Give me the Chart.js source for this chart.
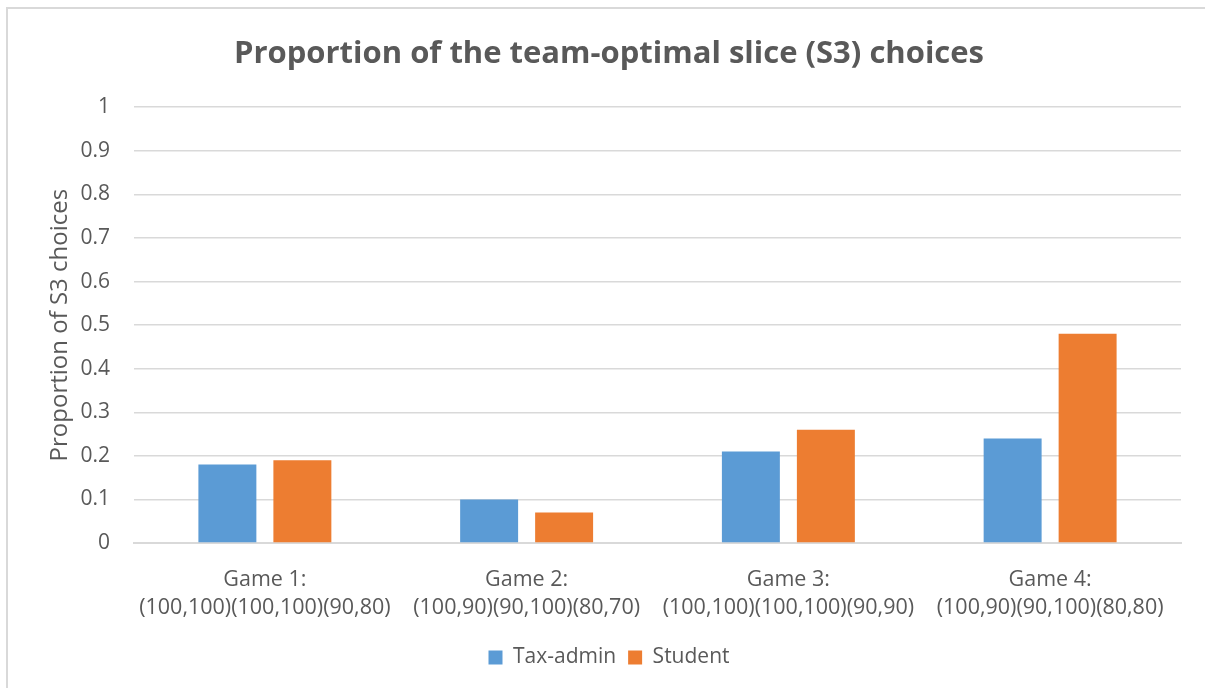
<!DOCTYPE html>
<html>
<head>
<meta charset="utf-8">
<script src="https://cdn.jsdelivr.net/npm/chart.js@4.4.1/dist/chart.umd.min.js"></script>
<style>
  html, body { margin: 0; padding: 0; background: #fff; overflow: hidden; }
  #frame { position: absolute; left: 6px; top: 7px; width: 1220px; height: 700px; border: 2px solid #d9d9d9; }
  #wrap { position: absolute; left: 37px; top: 0; width: 1168px; height: 688px; }
</style>
</head>
<body>
<div id="frame"></div>
<div id="wrap"><canvas id="chart" width="1168" height="688"></canvas></div>
<script>
const categories = [
  ["Game 1:", "(100,100)(100,100)(90,80)"],
  ["Game 2:", "(100,90)(90,100)(80,70)"],
  ["Game 3:", "(100,100)(100,100)(90,90)"],
  ["Game 4:", "(100,90)(90,100)(80,80)"]
];
const taxAdmin = [0.18, 0.10, 0.21, 0.24];
const student = [0.19, 0.07, 0.26, 0.48];
const yTicks = [0, 0.1, 0.2, 0.3, 0.4, 0.5, 0.6, 0.7, 0.8, 0.9, 1];

const textColor = "#595959";
const gridColor = "#d9d9d9";
const fontFamily = "'Open Sans', 'Noto Sans', sans-serif";

Chart.defaults.font.family = fontFamily;
Chart.defaults.color = textColor;

const ctx = document.getElementById("chart");

new Chart(ctx, {
  type: "bar",
  data: {
    labels: categories,
    datasets: [
      {
        label: "Tax-admin",
        data: taxAdmin,
        backgroundColor: "#5b9bd5",
        categoryPercentage: 0.573,
        barPercentage: 0.773
      },
      {
        label: "Student",
        data: student,
        backgroundColor: "#ed7d31",
        categoryPercentage: 0.573,
        barPercentage: 0.773
      }
    ]
  },
  options: {
    responsive: false,
    animation: false,
    layout: {
      padding: { left: 0, right: 24, top: 0, bottom: 10 }
    },
    plugins: {
      title: {
        display: true,
        text: "Proportion of the team-optimal slice (S3) choices",
        color: textColor,
        font: { size: 31, weight: "bold" },
        padding: { top: 36, bottom: 34 }
      },
      legend: {
        position: "bottom",
        labels: {
          boxWidth: 14,
          boxHeight: 14,
          padding: 12,
          font: { size: 21 },
          color: textColor
        }
      },
      tooltip: { enabled: false }
    },
    scales: {
      x: {
        grid: { display: false, drawTicks: false },
        border: { color: gridColor, width: 2 },
        ticks: {
          font: { size: 21.5, lineHeight: 1.3 },
          color: textColor,
          padding: 23,
          maxRotation: 0,
          autoSkip: false
        },
        afterFit: (s) => { s.height = 92; }
      },
      y: {
        min: 0,
        max: 1,
        afterBuildTicks: (s) => { s.ticks = yTicks.map(v => ({ value: v })); },
        grid: { color: gridColor, lineWidth: 1.5, drawTicks: false },
        border: { display: false },
        ticks: {
          font: { size: 21 },
          color: textColor,
          padding: 24,
          callback: (v) => String(Math.round(v * 10) / 10)
        },
        title: {
          display: true,
          text: "Proportion of S3 choices",
          color: textColor,
          font: { size: 24 },
          padding: { top: 9, bottom: 0 }
        },
        afterFit: (s) => { s.width = 97; }
      }
    }
  }
});
</script>
</body>
</html>
